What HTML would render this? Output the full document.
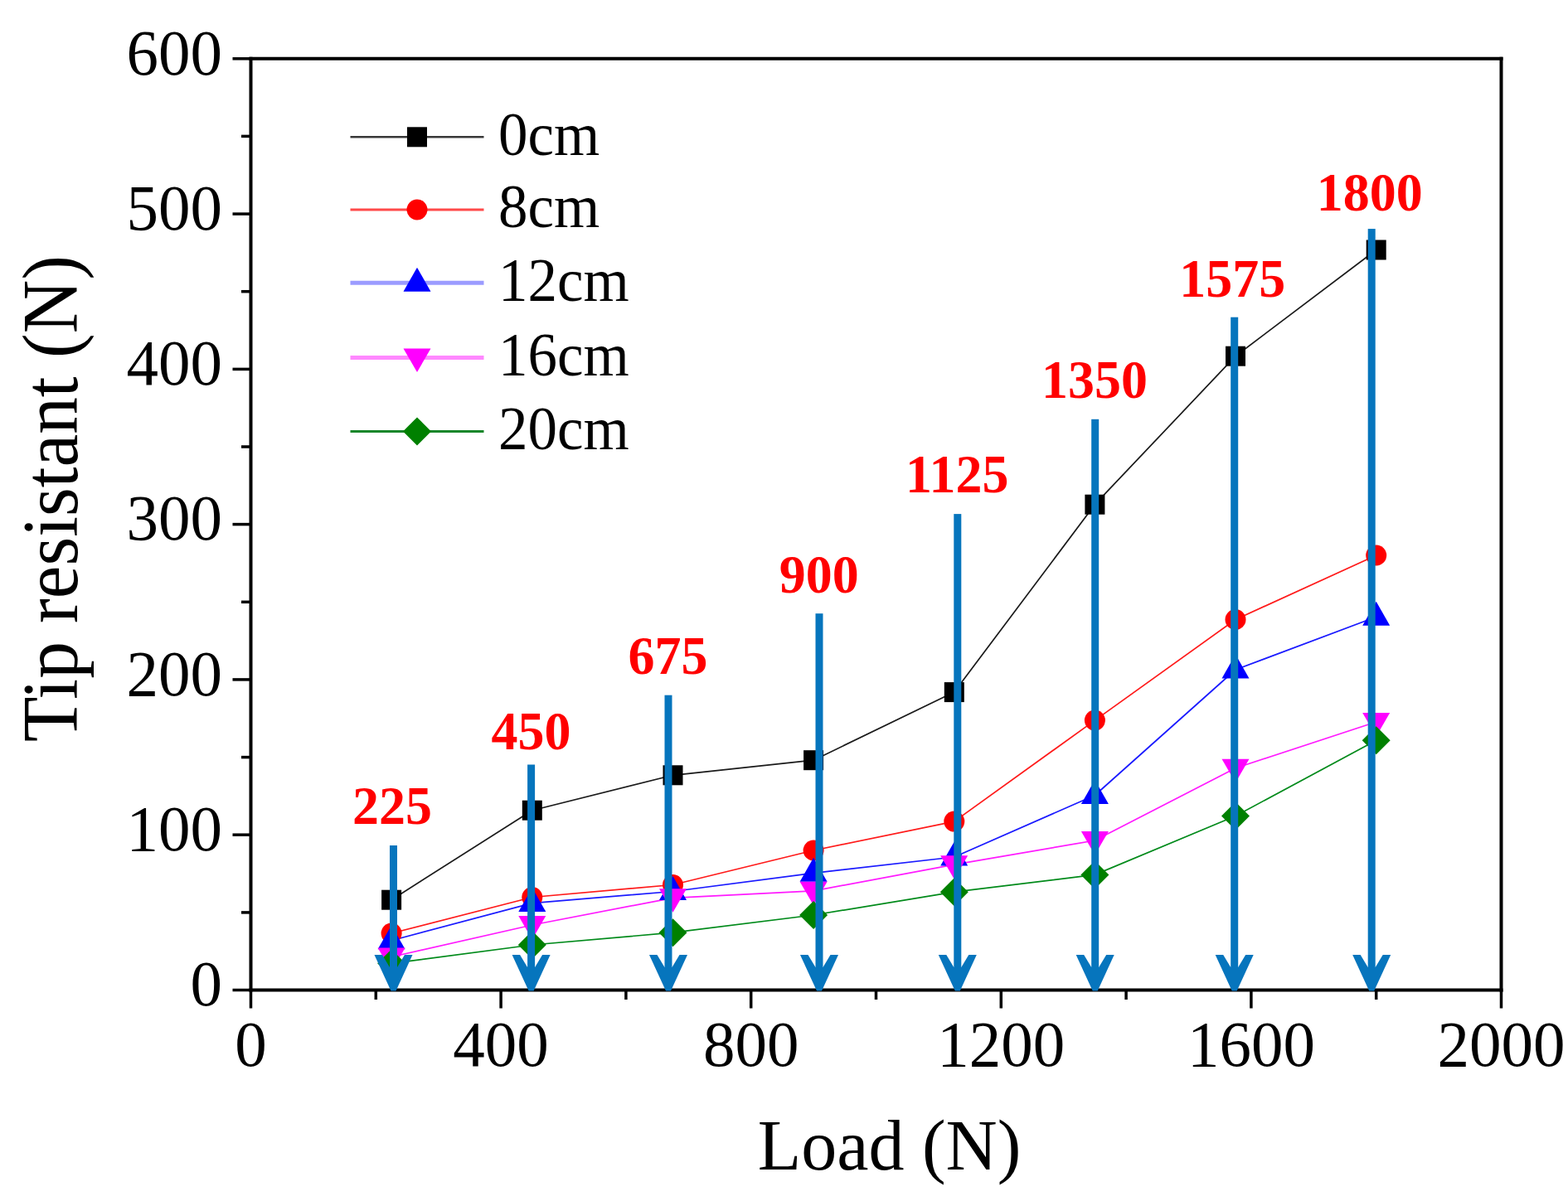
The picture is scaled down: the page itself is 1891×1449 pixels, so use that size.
<!DOCTYPE html>
<html><head><meta charset="utf-8"><title>Tip resistant vs Load</title>
<style>html,body{margin:0;padding:0;background:#fff;}svg{display:block;}</style>
</head><body>
<svg width="1891" height="1449" viewBox="0 0 1891 1449">
<rect width="100%" height="100%" fill="#ffffff"/>
<g stroke="#000" stroke-width="4" fill="none" stroke-linecap="square">
<line x1="302.5" y1="70.8" x2="1810.5" y2="70.8"/>
<line x1="1810.5" y1="70.8" x2="1810.5" y2="1194.5"/>
</g>
<g stroke="#000" stroke-width="3.5" fill="none">
<line x1="280.5" y1="1194.5" x2="302.5" y2="1194.5"/>
<line x1="291.0" y1="1100.9" x2="302.5" y2="1100.9"/>
<line x1="280.5" y1="1007.2" x2="302.5" y2="1007.2"/>
<line x1="291.0" y1="913.6" x2="302.5" y2="913.6"/>
<line x1="280.5" y1="819.9" x2="302.5" y2="819.9"/>
<line x1="291.0" y1="726.3" x2="302.5" y2="726.3"/>
<line x1="280.5" y1="632.6" x2="302.5" y2="632.6"/>
<line x1="291.0" y1="539.0" x2="302.5" y2="539.0"/>
<line x1="280.5" y1="445.4" x2="302.5" y2="445.4"/>
<line x1="291.0" y1="351.7" x2="302.5" y2="351.7"/>
<line x1="280.5" y1="258.1" x2="302.5" y2="258.1"/>
<line x1="291.0" y1="164.4" x2="302.5" y2="164.4"/>
<line x1="280.5" y1="70.8" x2="302.5" y2="70.8"/>
<line x1="302.5" y1="1194.5" x2="302.5" y2="1216.5"/>
<line x1="453.3" y1="1194.5" x2="453.3" y2="1206.0"/>
<line x1="604.1" y1="1194.5" x2="604.1" y2="1216.5"/>
<line x1="754.9" y1="1194.5" x2="754.9" y2="1206.0"/>
<line x1="905.7" y1="1194.5" x2="905.7" y2="1216.5"/>
<line x1="1056.5" y1="1194.5" x2="1056.5" y2="1206.0"/>
<line x1="1207.3" y1="1194.5" x2="1207.3" y2="1216.5"/>
<line x1="1358.1" y1="1194.5" x2="1358.1" y2="1206.0"/>
<line x1="1508.9" y1="1194.5" x2="1508.9" y2="1216.5"/>
<line x1="1659.7" y1="1194.5" x2="1659.7" y2="1206.0"/>
<line x1="1810.5" y1="1194.5" x2="1810.5" y2="1216.5"/>
</g>
<line x1="302.5" y1="68.8" x2="302.5" y2="1196.5" stroke="#000" stroke-width="4"/>
<line x1="300.5" y1="1194.5" x2="1812.5" y2="1194.5" stroke="#000" stroke-width="4"/>
<g font-family="'Liberation Serif', 'Times New Roman', serif" font-size="77" fill="#000" text-anchor="end">
<text transform="translate(268,1213.3) scale(1,1.03)">0</text>
<text transform="translate(268,1026.0) scale(1,1.03)">100</text>
<text transform="translate(268,838.7) scale(1,1.03)">200</text>
<text transform="translate(268,651.4) scale(1,1.03)">300</text>
<text transform="translate(268,464.2) scale(1,1.03)">400</text>
<text transform="translate(268,276.9) scale(1,1.03)">500</text>
<text transform="translate(268,89.6) scale(1,1.03)">600</text>
</g>
<g font-family="'Liberation Serif', 'Times New Roman', serif" font-size="77" fill="#000" text-anchor="middle">
<text transform="translate(302.5,1285.8) scale(1,1.03)">0</text>
<text transform="translate(604.1,1285.8) scale(1,1.03)">400</text>
<text transform="translate(905.7,1285.8) scale(1,1.03)">800</text>
<text transform="translate(1207.3,1285.8) scale(1,1.03)">1200</text>
<text transform="translate(1508.9,1285.8) scale(1,1.03)">1600</text>
<text transform="translate(1810.5,1285.8) scale(1,1.03)">2000</text>
</g>
<text font-family="'Liberation Serif', 'Times New Roman', serif" font-size="86" x="1072.5" y="1410.5" text-anchor="middle">Load (N)</text>
<text font-family="'Liberation Serif', 'Times New Roman', serif" font-size="89.3" transform="translate(92.6,601.6) rotate(-90) scale(1,1.06)" text-anchor="middle">Tip resistant (N)</text>
<path d="M472.1,1085.7 L641.8,977.7 L811.5,935.3 L981.1,917.2 L1150.8,835.1 L1320.4,608.7 L1490.0,429.7 L1659.7,301.5" fill="none" stroke="#1a1a1a" stroke-width="1.7" stroke-linejoin="round"/>
<path d="M472.1,1126.0 L641.8,1082.5 L811.5,1067.5 L981.1,1026.0 L1150.8,991.1 L1320.4,869.1 L1490.0,747.5 L1659.7,670.0" fill="none" stroke="#ff1a1a" stroke-width="1.7" stroke-linejoin="round"/>
<path d="M472.1,1134.8 L641.8,1089.6 L811.5,1075.5 L981.1,1053.3 L1150.8,1034.0 L1320.4,959.5 L1490.0,808.0 L1659.7,744.3" fill="none" stroke="#1a1aff" stroke-width="1.7" stroke-linejoin="round"/>
<path d="M472.1,1154.5 L641.8,1116.0 L811.5,1083.3 L981.1,1074.8 L1150.8,1043.2 L1320.4,1014.0 L1490.0,926.7 L1659.7,871.0" fill="none" stroke="#ff1aff" stroke-width="1.7" stroke-linejoin="round"/>
<path d="M472.1,1162.3 L641.8,1140.0 L811.5,1125.2 L981.1,1104.0 L1150.8,1076.2 L1320.4,1055.4 L1490.0,984.5 L1659.7,893.2" fill="none" stroke="#008a1a" stroke-width="1.7" stroke-linejoin="round"/>
<rect x="460.1" y="1073.7" width="24" height="24" fill="#000000"/>
<rect x="629.8" y="965.7" width="24" height="24" fill="#000000"/>
<rect x="799.5" y="923.3" width="24" height="24" fill="#000000"/>
<rect x="969.1" y="905.2" width="24" height="24" fill="#000000"/>
<rect x="1138.8" y="823.1" width="24" height="24" fill="#000000"/>
<rect x="1308.4" y="596.7" width="24" height="24" fill="#000000"/>
<rect x="1478.0" y="417.7" width="24" height="24" fill="#000000"/>
<rect x="1647.7" y="289.5" width="24" height="24" fill="#000000"/>
<circle cx="472.1" cy="1126.0" r="12.5" fill="#ff0000"/>
<circle cx="641.8" cy="1082.5" r="12.5" fill="#ff0000"/>
<circle cx="811.5" cy="1067.5" r="12.5" fill="#ff0000"/>
<circle cx="981.1" cy="1026.0" r="12.5" fill="#ff0000"/>
<circle cx="1150.8" cy="991.1" r="12.5" fill="#ff0000"/>
<circle cx="1320.4" cy="869.1" r="12.5" fill="#ff0000"/>
<circle cx="1490.0" cy="747.5" r="12.5" fill="#ff0000"/>
<circle cx="1659.7" cy="670.0" r="12.5" fill="#ff0000"/>
<polygon points="472.1,1116.3 488.6,1145.3 455.6,1145.3" fill="#0000ff"/>
<polygon points="641.8,1071.1 658.3,1100.1 625.3,1100.1" fill="#0000ff"/>
<polygon points="811.5,1057.0 828.0,1086.0 795.0,1086.0" fill="#0000ff"/>
<polygon points="981.1,1034.8 997.6,1063.8 964.6,1063.8" fill="#0000ff"/>
<polygon points="1150.8,1015.5 1167.2,1044.5 1134.2,1044.5" fill="#0000ff"/>
<polygon points="1320.4,941.0 1336.9,970.0 1303.9,970.0" fill="#0000ff"/>
<polygon points="1490.0,789.5 1506.5,818.5 1473.5,818.5" fill="#0000ff"/>
<polygon points="1659.7,725.8 1676.2,754.8 1643.2,754.8" fill="#0000ff"/>
<polygon points="455.6,1143.5 488.6,1143.5 472.1,1172.0" fill="#ff00ff"/>
<polygon points="625.3,1105.0 658.3,1105.0 641.8,1133.5" fill="#ff00ff"/>
<polygon points="795.0,1072.3 828.0,1072.3 811.5,1100.8" fill="#ff00ff"/>
<polygon points="964.6,1063.8 997.6,1063.8 981.1,1092.3" fill="#ff00ff"/>
<polygon points="1134.2,1032.2 1167.2,1032.2 1150.8,1060.7" fill="#ff00ff"/>
<polygon points="1303.9,1003.0 1336.9,1003.0 1320.4,1031.5" fill="#ff00ff"/>
<polygon points="1473.5,915.7 1506.5,915.7 1490.0,944.2" fill="#ff00ff"/>
<polygon points="1643.2,860.0 1676.2,860.0 1659.7,888.5" fill="#ff00ff"/>
<polygon points="472.1,1145.3 489.1,1162.3 472.1,1179.3 455.1,1162.3" fill="#008000"/>
<polygon points="641.8,1123.0 658.8,1140.0 641.8,1157.0 624.8,1140.0" fill="#008000"/>
<polygon points="811.5,1108.2 828.5,1125.2 811.5,1142.2 794.5,1125.2" fill="#008000"/>
<polygon points="981.1,1087.0 998.1,1104.0 981.1,1121.0 964.1,1104.0" fill="#008000"/>
<polygon points="1150.8,1059.2 1167.8,1076.2 1150.8,1093.2 1133.8,1076.2" fill="#008000"/>
<polygon points="1320.4,1038.4 1337.4,1055.4 1320.4,1072.4 1303.4,1055.4" fill="#008000"/>
<polygon points="1490.0,967.5 1507.0,984.5 1490.0,1001.5 1473.0,984.5" fill="#008000"/>
<polygon points="1659.7,876.2 1676.7,893.2 1659.7,910.2 1642.7,893.2" fill="#008000"/>
<line x1="422.5" y1="165.3" x2="583.5" y2="165.3" stroke="#383838" stroke-width="2.6"/>
<rect x="491.0" y="153.3" width="24" height="24" fill="#000000"/>
<text font-family="'Liberation Serif', 'Times New Roman', serif" font-size="71" transform="translate(601,186.6) scale(1,1.04)">0cm</text>
<line x1="422.5" y1="253.0" x2="583.5" y2="253.0" stroke="#ff4a4a" stroke-width="3.2"/>
<circle cx="503.0" cy="253.0" r="12.5" fill="#ff0000"/>
<text font-family="'Liberation Serif', 'Times New Roman', serif" font-size="71" transform="translate(601,274.3) scale(1,1.04)">8cm</text>
<line x1="422.5" y1="341.3" x2="583.5" y2="341.3" stroke="#9c9cff" stroke-width="5"/>
<polygon points="503.0,322.8 519.5,351.8 486.5,351.8" fill="#0000ff"/>
<text font-family="'Liberation Serif', 'Times New Roman', serif" font-size="71" transform="translate(601,362.6) scale(1,1.04)">12cm</text>
<line x1="422.5" y1="431.5" x2="583.5" y2="431.5" stroke="#ff88ff" stroke-width="5"/>
<polygon points="486.5,420.5 519.5,420.5 503.0,449.0" fill="#ff00ff"/>
<text font-family="'Liberation Serif', 'Times New Roman', serif" font-size="71" transform="translate(601,452.8) scale(1,1.04)">16cm</text>
<line x1="422.5" y1="520.4" x2="583.5" y2="520.4" stroke="#17862a" stroke-width="3"/>
<polygon points="503.0,503.4 520.0,520.4 503.0,537.4 486.0,520.4" fill="#008000"/>
<text font-family="'Liberation Serif', 'Times New Roman', serif" font-size="71" transform="translate(601,541.7) scale(1,1.04)">20cm</text>
<rect x="470.0" y="1020.0" width="9" height="160.0" fill="#0675bd"/>
<polygon points="451.5,1152.0 461.0,1152.0 470.0,1167.0 479.0,1167.0 488.0,1152.0 497.5,1152.0 477.5,1195.5 471.5,1195.5" fill="#0675bd"/>
<rect x="636.1" y="922.5" width="9" height="257.5" fill="#0675bd"/>
<polygon points="617.6,1152.0 627.1,1152.0 636.1,1167.0 645.1,1167.0 654.1,1152.0 663.6,1152.0 643.6,1195.5 637.6,1195.5" fill="#0675bd"/>
<rect x="801.5" y="838.7" width="9" height="341.3" fill="#0675bd"/>
<polygon points="783.0,1152.0 792.5,1152.0 801.5,1167.0 810.5,1167.0 819.5,1152.0 829.0,1152.0 809.0,1195.5 803.0,1195.5" fill="#0675bd"/>
<rect x="983.5" y="740.2" width="9" height="439.8" fill="#0675bd"/>
<polygon points="965.0,1152.0 974.5,1152.0 983.5,1167.0 992.5,1167.0 1001.5,1152.0 1011.0,1152.0 991.0,1195.5 985.0,1195.5" fill="#0675bd"/>
<rect x="1150.3" y="620.1" width="9" height="559.9" fill="#0675bd"/>
<polygon points="1131.8,1152.0 1141.3,1152.0 1150.3,1167.0 1159.3,1167.0 1168.3,1152.0 1177.8,1152.0 1157.8,1195.5 1151.8,1195.5" fill="#0675bd"/>
<rect x="1316.2" y="505.8" width="9" height="674.2" fill="#0675bd"/>
<polygon points="1297.7,1152.0 1307.2,1152.0 1316.2,1167.0 1325.2,1167.0 1334.2,1152.0 1343.7,1152.0 1323.7,1195.5 1317.7,1195.5" fill="#0675bd"/>
<rect x="1484.2" y="382.7" width="9" height="797.3" fill="#0675bd"/>
<polygon points="1465.7,1152.0 1475.2,1152.0 1484.2,1167.0 1493.2,1167.0 1502.2,1152.0 1511.7,1152.0 1491.7,1195.5 1485.7,1195.5" fill="#0675bd"/>
<rect x="1649.7" y="276.1" width="9" height="903.9" fill="#0675bd"/>
<polygon points="1631.2,1152.0 1640.7,1152.0 1649.7,1167.0 1658.7,1167.0 1667.7,1152.0 1677.2,1152.0 1657.2,1195.5 1651.2,1195.5" fill="#0675bd"/>
<g font-family="'Liberation Serif', 'Times New Roman', serif" font-weight="bold" font-size="64" fill="#ff0000" text-anchor="middle">
<text transform="translate(473.0,993.6) scale(1,1.025)">225</text>
<text transform="translate(640.6,904.0) scale(1,1.025)">450</text>
<text transform="translate(805.6,812.8) scale(1,1.025)">675</text>
<text transform="translate(987.8,715.2) scale(1,1.025)">900</text>
<text transform="translate(1154.2,593.8) scale(1,1.025)">1125</text>
<text transform="translate(1320.0,479.6) scale(1,1.025)">1350</text>
<text transform="translate(1486.2,357.6) scale(1,1.025)">1575</text>
<text transform="translate(1651.8,253.6) scale(1,1.025)">1800</text>
</g>
</svg>
</body></html>
